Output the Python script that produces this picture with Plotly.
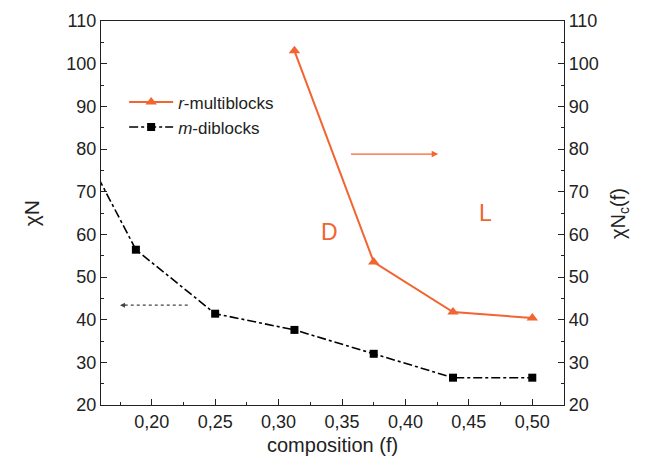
import plotly.graph_objects as go

# data
f_diblock = [0.125, 0.1875, 0.25, 0.3125, 0.375, 0.4375, 0.5]
chiN_diblock = [92.0, 56.4, 41.4, 37.6, 32.0, 26.4, 26.4]
f_multi = [0.3125, 0.375, 0.4375, 0.5]
chiN_multi = [103.0, 53.5, 41.8, 40.4]
x_ticks = [0.20, 0.25, 0.30, 0.35, 0.40, 0.45, 0.50]
y_ticks = [20, 30, 40, 50, 60, 70, 80, 90, 100, 110]

ORANGE = "#F26430"
FONT = "Liberation Sans, Arial, sans-serif"
TXT = "#222222"

fig = go.Figure()
fig.add_trace(go.Scatter(
    x=f_multi, y=chiN_multi, yaxis="y2", mode="lines+markers",
    name="<i>r</i>-multiblocks",
    line=dict(color=ORANGE, width=2),
    marker=dict(symbol="triangle-up", size=10, color=ORANGE),
))
fig.add_trace(go.Scatter(
    x=f_diblock, y=chiN_diblock, mode="lines+markers",
    name="<i>m</i>-diblocks",
    line=dict(color="black", width=1.6, dash="dashdot"),
    marker=dict(symbol="square", size=8, color="black"),
))

axis_common = dict(
    showgrid=False, zeroline=False, showline=True, linecolor="#222", linewidth=1.2,
    ticks="inside", ticklen=6, tickcolor="#222",
    tickfont=dict(family=FONT, size=18, color=TXT),
)
fig.update_layout(
    width=649, height=460,
    margin=dict(l=101, r=85, t=21, b=55),
    paper_bgcolor="white", plot_bgcolor="white",
    separators=", ",
    showlegend=True,
    legend=dict(x=0.05, y=0.835, xanchor="left", yanchor="top",
                bgcolor="rgba(0,0,0,0)", font=dict(family=FONT, size=17, color=TXT),
                itemwidth=44, tracegroupgap=0),
    xaxis=dict(range=[0.16, 0.525], tickvals=x_ticks, tickformat=".2f",
               mirror=True,
               minor=dict(dtick=0.025, tick0=0.2, ticks="inside", ticklen=3, tickcolor="#222"),
               **axis_common),
    yaxis=dict(range=[20, 110], tickvals=y_ticks,
               minor=dict(dtick=5, tick0=20, ticks="inside", ticklen=3, tickcolor="#222"),
               **axis_common),
    yaxis2=dict(range=[20, 110], tickvals=y_ticks, overlaying="y", side="right",
                minor=dict(dtick=5, tick0=20, ticks="inside", ticklen=3, tickcolor="#222"),
                **axis_common),
)

# axis titles
fig.add_annotation(text="composition (f)", xref="paper", yref="paper", x=0.5, y=-0.103,
                   yanchor="middle", showarrow=False, font=dict(family=FONT, size=20, color=TXT))
fig.add_annotation(text="χN", xref="paper", yref="paper", x=-0.18, y=0.5, textangle=-90,
                   showarrow=False, font=dict(family=FONT, size=21, color=TXT))
fig.add_annotation(text="χN<sub>c</sub>(f)", xref="paper", yref="paper", x=1.15, y=0.5, textangle=-90,
                   showarrow=False, font=dict(family=FONT, size=20, color=TXT))

# phase labels
fig.add_annotation(text="D", x=0.3405, y=60.5, showarrow=False,
                   font=dict(family=FONT, size=23, color=ORANGE))
fig.add_annotation(text="L", x=0.463, y=65, showarrow=False,
                   font=dict(family=FONT, size=23, color=ORANGE))

# arrows
fig.add_annotation(x=0.4258, y=78.8, ax=0.3547, ay=78.8, xref="x", yref="y", axref="x", ayref="y",
                   showarrow=True, arrowhead=2, arrowsize=1, arrowwidth=1.3, arrowcolor=ORANGE, text=" ")
fig.add_shape(type="line", x0=0.2284, x1=0.179, y0=43.4, y1=43.4, xref="x", yref="y",
              line=dict(color="#444", width=1.2, dash="dot"))
fig.add_annotation(x=0.175, y=43.4, ax=0.182, ay=43.4, xref="x", yref="y", axref="x", ayref="y",
                   showarrow=True, arrowhead=2, arrowsize=1, arrowwidth=1.0, arrowcolor="#444", text=" ")

fig.write_html("out.html")
